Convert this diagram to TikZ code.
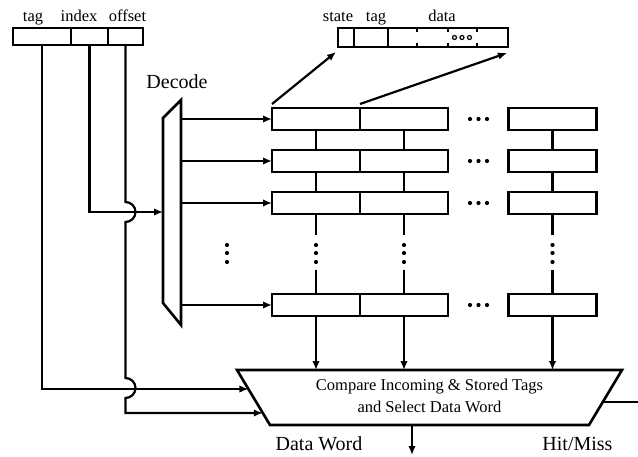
\documentclass[tikz,border=0pt]{standalone}
\usepackage{fontspec}
\setmainfont{Liberation Serif}
\usetikzlibrary{positioning,arrows.meta,calc}

\begin{document}
\begin{tikzpicture}[x=1pt,y=1pt,
  wire/.style={draw=drawColor,line width=2.2pt,line join=miter},
  arr/.style={wire,-{Latex[length=9pt,width=7.5pt]}},
  cell/.style={draw=drawColor,line width=2.6pt,inner sep=0pt,outer sep=0pt,minimum height=22pt,minimum width=88pt},
  fld/.style={draw=drawColor,line width=2.6pt,inner sep=0pt,outer sep=0pt,minimum height=17pt},
  lfld/.style={draw=drawColor,line width=2.6pt,inner sep=0pt,outer sep=0pt,minimum height=19pt},
  lbl/.style={text=drawColor,anchor=base,inner sep=0pt,outer sep=0pt,font=\fontsize{16.5}{18}\selectfont},
  biglbl/.style={lbl,font=\fontsize{20}{22}\selectfont}]
\definecolor{fillColor}{RGB}{255,255,255}
\definecolor{drawColor}{RGB}{0,0,0}
\path[use as bounding box,fill=fillColor] (0,0) rectangle (638,456);

% address register
\node[fld,minimum width=58pt] (tagf) at ( 42.0,419.5) {};
\node[fld,minimum width=37pt] (idxf) at ( 89.5,419.5) {};
\node[fld,minimum width=35pt] (offf) at (125.5,419.5) {};
\node[lbl] (tagl) at ( 33.0,434.0) {tag};
\node[lbl] (idxl) at ( 79.0,434.0) {index};
\node[lbl] (offl) at (127.5,434.0) {offset};

% line format
\node[lfld,minimum width=16pt] (lstate) at (346.0,418.5) {};
\node[lfld,minimum width=34pt] (ltag) at (371.0,418.5) {};
\node[lfld,minimum width=120pt] (ldata) at (448.0,418.5) {};
\node[lbl] (statel) at (338.0,434.0) {state};
\node[lbl] (ltagl) at (376.0,434.0) {tag};
\node[lbl] (datal) at (442.0,434.0) {data};
\path[wire,line width=1.4pt] (417,428) -- (417,424);
\path[wire,line width=1.4pt] (417,409) -- (417,413);
\path[wire,line width=1.4pt] (448,428) -- (448,424);
\path[wire,line width=1.4pt] (448,409) -- (448,413);
\path[wire,line width=1.4pt] (477,428) -- (477,424);
\path[wire,line width=1.4pt] (477,409) -- (477,413);
\path[draw=drawColor,line width=1.2pt] (454.5,418.5) circle (2);
\path[draw=drawColor,line width=1.2pt] (462.0,418.5) circle (2);
\path[draw=drawColor,line width=1.2pt] (469.5,418.5) circle (2);

% decoder
\coordinate (decin) at (163,244);
\coordinate (decout) at (181,0);
\path[wire,line width=2.6pt] (163,338) -- (181,356) -- (181,131) -- (163,153) -- cycle;
\node[biglbl] (decl) at (177.0,367.0) {Decode};

% cache rows
\node[cell] (r1a) at (316.0,337) {};
\node[cell] (r1b) at (404.0,337) {};
\node[cell] (r1c) at (552.5,337) {};
\node[cell] (r2a) at (316.0,295) {};
\node[cell] (r2b) at (404.0,295) {};
\node[cell] (r2c) at (552.5,295) {};
\node[cell] (r3a) at (316.0,253) {};
\node[cell] (r3b) at (404.0,253) {};
\node[cell] (r3c) at (552.5,253) {};
\node[cell] (r4a) at (316.0,151) {};
\node[cell] (r4b) at (404.0,151) {};
\node[cell] (r4c) at (552.5,151) {};

\path[arr] (r1a.west -| decout) -- (r1a.west);
\path[arr] (r2a.west -| decout) -- (r2a.west);
\path[arr] (r3a.west -| decout) -- (r3a.west);
\path[arr] (r4a.west -| decout) -- (r4a.west);

\path[wire] (r1a.south) -- (r2a.north);
\path[wire] (r1b.south) -- (r2b.north);
\path[wire] (r1c.south) -- (r2c.north);
\path[wire] (r2a.south) -- (r3a.north);
\path[wire] (r2b.south) -- (r3b.north);
\path[wire] (r2c.south) -- (r3c.north);
\path[wire] (r3a.south) -- (r3a.south |- 0,221);
\path[wire] (r3b.south) -- (r3b.south |- 0,221);
\path[wire] (r3c.south) -- (r3c.south |- 0,221);
\path[wire] (r4a.north |- 0,186) -- (r4a.north);
\path[wire] (r4b.north |- 0,186) -- (r4b.north);
\path[wire] (r4c.north |- 0,186) -- (r4c.north);

% dots
\path[fill=drawColor] (227.0,211) circle (2.1);
\path[fill=drawColor] (227.0,203) circle (2.1);
\path[fill=drawColor] (227.0,194) circle (2.1);
\path[fill=drawColor] (316.0,211) circle (2.1);
\path[fill=drawColor] (316.0,203) circle (2.1);
\path[fill=drawColor] (316.0,194) circle (2.1);
\path[fill=drawColor] (404.0,211) circle (2.1);
\path[fill=drawColor] (404.0,203) circle (2.1);
\path[fill=drawColor] (404.0,194) circle (2.1);
\path[fill=drawColor] (552.5,211) circle (2.1);
\path[fill=drawColor] (552.5,203) circle (2.1);
\path[fill=drawColor] (552.5,194) circle (2.1);
\path[fill=drawColor] (470.0,337) circle (2.1);
\path[fill=drawColor] (478.5,337) circle (2.1);
\path[fill=drawColor] (487.0,337) circle (2.1);
\path[fill=drawColor] (470.0,295) circle (2.1);
\path[fill=drawColor] (478.5,295) circle (2.1);
\path[fill=drawColor] (487.0,295) circle (2.1);
\path[fill=drawColor] (470.0,253) circle (2.1);
\path[fill=drawColor] (478.5,253) circle (2.1);
\path[fill=drawColor] (487.0,253) circle (2.1);
\path[fill=drawColor] (470.0,151) circle (2.1);
\path[fill=drawColor] (478.5,151) circle (2.1);
\path[fill=drawColor] (487.0,151) circle (2.1);

% row 1 to line format
\path[arr] ([yshift=4pt]r1a.north west) -- ([shift={(-2pt,-5pt)}]lstate.south west);
\path[arr] ([yshift=4pt]r1a.north east) -- ([shift={(-1pt,-6pt)}]ldata.south east);

% compare block
\coordinate (cmptl) at (237,86);
\coordinate (cmptr) at (622,86);
\coordinate (cmpbr) at (589,31);
\coordinate (cmpbl) at (270,31);
\coordinate (cmptag) at (248.4,67);
\coordinate (cmpoff) at (262.8,43);
\coordinate (hmout) at (602.8,54);
\coordinate (hmend) at (638,54);
\coordinate (dwout) at (412,31);
\coordinate (dwend) at (412,1);
\path[wire,line width=2.6pt] (cmptl) -- (cmptr) -- (cmpbr) -- (cmpbl) -- cycle;
\node[lbl] (cmpl1) at (429.5,66.0) {Compare Incoming \& Stored Tags};
\node[lbl] (cmpl2) at (429.5,44.0) {and Select Data Word};

\path[arr] (r4a.south) -- (r4a.south |- cmptl);
\path[arr] (r4b.south) -- (r4b.south |- cmptl);
\path[arr] (r4c.south) -- (r4c.south |- cmptl);

% address fields to decoder and compare
\path[arr] (tagf.south) |- (cmptag);
\path[arr] (idxf.south) |- (decin);
\path[arr] (offf.south) -- (125.5,254) arc[start angle=90,end angle=-90,radius=10]
  -- (125.5,78) arc[start angle=90,end angle=-90,radius=10] -- (125.5,43) -- (cmpoff);

% outputs
\path[wire] (hmout) -- (hmend);
\path[arr] (dwout) -- (dwend);
\node[biglbl] (dwl) at (319.0,6.0) {Data Word};
\node[biglbl] (hml) at (577.5,6.0) {Hit/Miss};
\end{tikzpicture}
\end{document}
